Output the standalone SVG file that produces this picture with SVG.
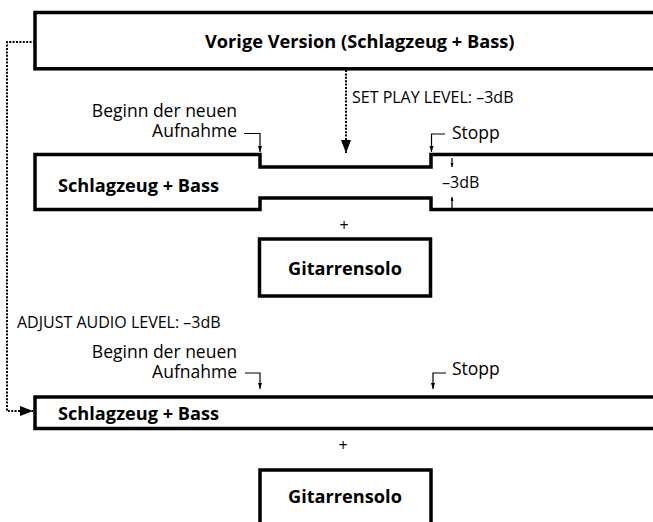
<svg xmlns="http://www.w3.org/2000/svg" width="653" height="522" viewBox="0 0 653 522">
<defs>
<style>
.box{fill:#fff;stroke:#000;stroke-width:3.5;stroke-linejoin:miter}
.b{font-family:"Open Sans","Liberation Sans",sans-serif;font-weight:bold;font-size:18.2px;fill:#000}
.r{font-family:"Open Sans","Liberation Sans",sans-serif;font-size:17.5px;fill:#000}
.u{font-family:"Open Sans","Liberation Sans",sans-serif;font-size:16px;fill:#000}
.dot{fill:none;stroke:#000;stroke-width:2;stroke-dasharray:2 1.4}
.thin{fill:none;stroke:#000;stroke-width:1.2}
</style>
<marker id="big" markerUnits="userSpaceOnUse" markerWidth="14" markerHeight="11" refX="13" refY="5" orient="auto">
<path d="M0,0 L13,5 L0,10 z" fill="#000"/>
</marker>
<marker id="small" markerUnits="userSpaceOnUse" markerWidth="7" markerHeight="5" refX="6" refY="2" orient="auto">
<path d="M0,0 L6,2 L0,4 z" fill="#000"/>
</marker>
<marker id="tiny" markerUnits="userSpaceOnUse" markerWidth="5" markerHeight="4" refX="4" refY="1.5" orient="auto">
<path d="M0,0 L4,1.5 L0,3 z" fill="#000"/>
</marker>
</defs>
<rect width="653" height="522" fill="#fff"/>

<g id="vorige">
<rect class="box" x="35" y="12.5" width="640" height="56.3"/>
<text class="b" x="205" y="48">Vorige Version (Schlagzeug + Bass)</text>
</g>

<g id="spur1">
<path class="box" d="M670,154.5 H431 V167 H260 V154.5 H35 V209.5 H260 V198 H431 V209.5 H670"/>
<text class="b" x="58" y="192">Schlagzeug + Bass</text>
</g>

<g id="solo1">
<rect class="box" x="259.5" y="239" width="171" height="57"/>
<text class="b" x="288" y="275">Gitarrensolo</text>
</g>

<g id="spur2">
<path class="box" d="M670,397 H35 V428.5 H670"/>
<text class="b" x="58" y="420">Schlagzeug + Bass</text>
</g>

<g id="solo2">
<path class="box" d="M260,530 V470 H431 V530"/>
<text class="b" x="288" y="503">Gitarrensolo</text>
</g>

<g id="labels">
<text class="u" x="352" y="102.5">SET PLAY LEVEL: –3dB</text>
<text class="r" x="237" y="116.5" text-anchor="end">Beginn der neuen</text>
<text class="r" x="237" y="137" text-anchor="end">Aufnahme</text>
<text class="r" x="452" y="139">Stopp</text>
<text class="u" x="442" y="188">–3dB</text>
<text class="u" x="344" y="231" text-anchor="middle">+</text>
<text class="u" x="17" y="328">ADJUST AUDIO LEVEL: –3dB</text>
<text class="r" x="237" y="357.5" text-anchor="end">Beginn der neuen</text>
<text class="r" x="237" y="378" text-anchor="end">Aufnahme</text>
<text class="r" x="452" y="375">Stopp</text>
<text class="u" x="343" y="451" text-anchor="middle">+</text>
</g>

<g id="connectors">
<path class="dot" d="M35,42 H7 V411 H33" marker-end="url(#big)"/>
<path class="dot" d="M346,70 V153" marker-end="url(#big)"/>
<path class="thin" d="M244,133.5 H260 V152" marker-end="url(#small)"/>
<path class="thin" d="M445,134 H431.5 V152" marker-end="url(#small)"/>
<path class="thin" d="M452,158 V167" marker-end="url(#tiny)"/>
<path class="thin" d="M452,208 V197" marker-end="url(#tiny)"/>
<path class="thin" d="M245,373 H260 V389" marker-end="url(#small)"/>
<path class="thin" d="M446,373 H433 V389" marker-end="url(#small)"/>
</g>
</svg>
